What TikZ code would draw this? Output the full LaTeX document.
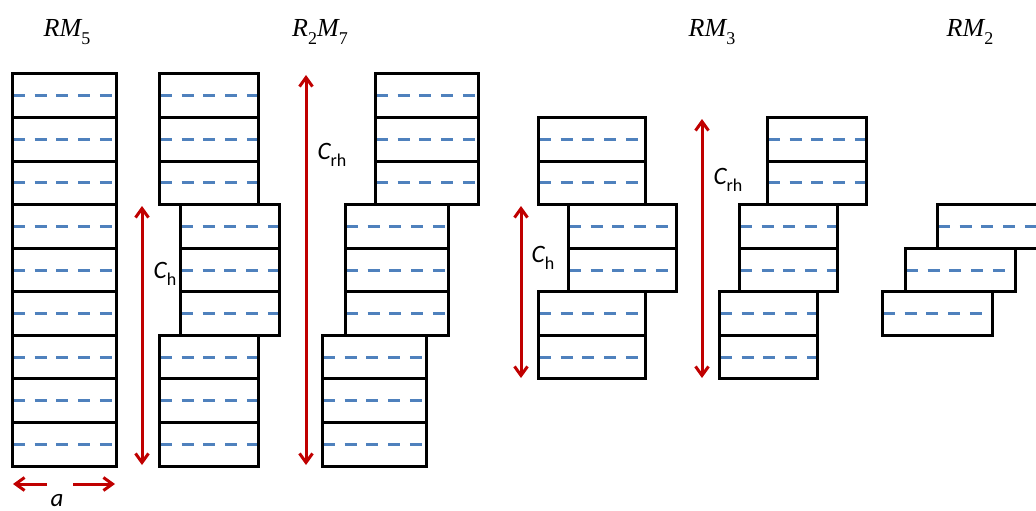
\documentclass[tikz,border=0pt]{standalone}
\usepackage{fontspec}
\setmainfont{Liberation Serif}
\newfontfamily\carl{Carlito}
\usetikzlibrary{arrows.meta}
\definecolor{dred}{RGB}{192,0,0}
\definecolor{dblue}{RGB}{79,129,189}
\tikzset{
  box/.style={draw=black,line width=3pt,line join=miter},
  dashline/.style={draw=dblue,line width=3pt,dash pattern=on 12pt off 9.7pt},
  rarrow/.style={draw=dred,line width=3pt,{Straight Barb[length=9pt,width=13pt]}-{Straight Barb[length=9pt,width=13pt]}},
  rsingle/.style={draw=dred,line width=3pt,-{Straight Barb[length=9pt,width=13pt]}},
  head/.style={anchor=base,inner sep=0pt,font=\fontsize{26}{26}\selectfont\itshape},
  clabel/.style={inner sep=0pt,font=\carl\fontsize{25}{25}\selectfont}
}
\newcommand\blk[4]{%
  \foreach \i in {1,...,#4}{%
    \pgfmathsetmacro\yt{74+(#3+\i-1)*43.556}%
    \pgfmathsetmacro\yb{\yt+43.556}%
    \pgfmathsetmacro\ym{\yt+21.78}%
    \draw[dashline] (#1+1,\ym) -- (#2,\ym);
    \draw[box] (#1,\yt) rectangle (#2,\yb);
  }}
\newcommand\sub[1]{\raisebox{-0.28em}{\upshape\fontsize{18}{18}\selectfont #1}}
\newcommand\csub[1]{\raisebox{-0.3em}{\upshape\fontsize{18}{18}\selectfont #1}}
\begin{document}
\begin{tikzpicture}[x=1pt,y=-1pt]
\useasboundingbox (0,0) rectangle (1036,511);
\clip (0,0) rectangle (1036,511);
% headings
\node[head] (h1) at (67,37) {RM\sub{5}};
\node[head] (h2) at (320,37) {R\sub{2}M\sub{7}};
\node[head] (h3) at (712,37) {RM\sub{3}};
\node[head] (h4) at (970,37) {RM\sub{2}};
% RM5
\blk{12}{116}{0}{9}
% R2M7 left
\blk{159}{258}{0}{3}
\blk{180}{279}{3}{3}
\blk{159}{258}{6}{3}
% R2M7 right
\blk{375}{478}{0}{3}
\blk{345}{448}{3}{3}
\blk{322}{426}{6}{3}
% RM3 left
\blk{538}{645}{1}{2}
\blk{568}{676}{3}{2}
\blk{538}{645}{5}{2}
% RM3 right
\blk{767}{866}{1}{2}
\blk{739}{837}{3}{2}
\blk{719}{817}{5}{2}
% RM2
\blk{937}{1046}{3}{1}
\blk{905}{1015}{4}{1}
\blk{882}{992}{5}{1}
% arrows
\coordinate (cha) at (142,206);
\coordinate (chb) at (142,465);
\draw[rarrow] (cha) -- (chb);
\node[clabel] (ch1) at (165,274) {\itshape C\csub{h}};
\coordinate (cra) at (306,75);
\coordinate (crb) at (306,465);
\draw[rarrow] (cra) -- (crb);
\node[clabel] (cr1) at (332,155) {\itshape C\csub{rh}};
\coordinate (chc) at (521,206);
\coordinate (chd) at (521,378);
\draw[rarrow] (chc) -- (chd);
\node[clabel] (ch2) at (543,258) {\itshape C\csub{h}};
\coordinate (crc) at (702,119);
\coordinate (crd) at (702,378);
\draw[rarrow] (crc) -- (crd);
\node[clabel] (cr2) at (728,180) {\itshape C\csub{rh}};
% width arrow
\coordinate (aa) at (47,484);
\coordinate (ab) at (13,484);
\coordinate (ac) at (73,484);
\coordinate (ad) at (115,484);
\draw[rsingle] (aa) -- (ab);
\draw[rsingle] (ac) -- (ad);
\node[clabel,anchor=base] (alab) at (57,506) {\itshape a};
\end{tikzpicture}
\end{document}
